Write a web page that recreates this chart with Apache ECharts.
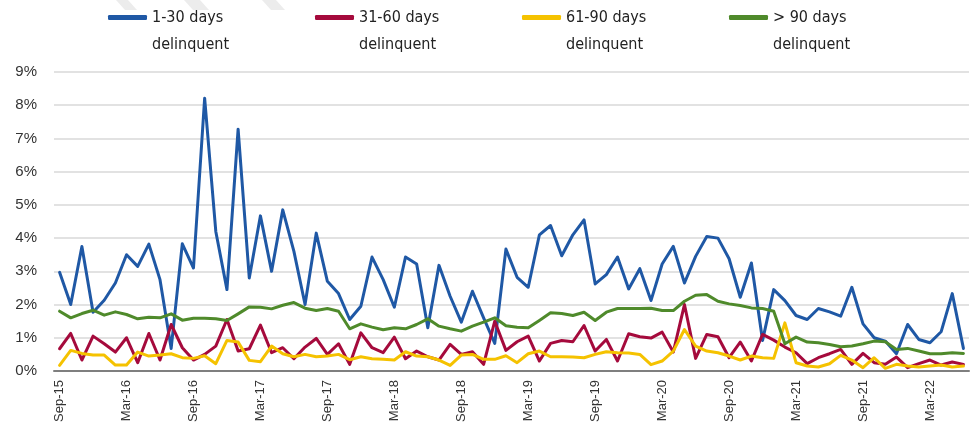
<!DOCTYPE html>
<html>
<head>
<meta charset="utf-8">
<style>
    html, body { margin: 0; padding: 0; background: #fff; }
    .chart { width: 976px; height: 433px; }
</style>
<script src="https://cdn.jsdelivr.net/npm/echarts@6/dist/echarts.min.js"></script>
</head>
<body>
<div class="chart"></div>
<script>
var months = [
    'Sep-15', 'Oct-15', 'Nov-15', 'Dec-15',
    'Jan-16', 'Feb-16', 'Mar-16', 'Apr-16', 'May-16', 'Jun-16', 'Jul-16', 'Aug-16', 'Sep-16', 'Oct-16', 'Nov-16', 'Dec-16',
    'Jan-17', 'Feb-17', 'Mar-17', 'Apr-17', 'May-17', 'Jun-17', 'Jul-17', 'Aug-17', 'Sep-17', 'Oct-17', 'Nov-17', 'Dec-17',
    'Jan-18', 'Feb-18', 'Mar-18', 'Apr-18', 'May-18', 'Jun-18', 'Jul-18', 'Aug-18', 'Sep-18', 'Oct-18', 'Nov-18', 'Dec-18',
    'Jan-19', 'Feb-19', 'Mar-19', 'Apr-19', 'May-19', 'Jun-19', 'Jul-19', 'Aug-19', 'Sep-19', 'Oct-19', 'Nov-19', 'Dec-19',
    'Jan-20', 'Feb-20', 'Mar-20', 'Apr-20', 'May-20', 'Jun-20', 'Jul-20', 'Aug-20', 'Sep-20', 'Oct-20', 'Nov-20', 'Dec-20',
    'Jan-21', 'Feb-21', 'Mar-21', 'Apr-21', 'May-21', 'Jun-21', 'Jul-21', 'Aug-21', 'Sep-21', 'Oct-21', 'Nov-21', 'Dec-21',
    'Jan-22', 'Feb-22', 'Mar-22', 'Apr-22', 'May-22', 'Jun-22'
];

var seriesNames = ['1-30 days delinquent', '31-60 days delinquent', '61-90 days delinquent', '> 90 days delinquent'];

// values in %
var days1to30 = [
    2.97, 2.0, 3.75, 1.77, 2.13, 2.65, 3.5, 3.15, 3.82, 2.75, 0.68, 3.83, 3.1, 8.21,
    4.2, 2.45, 7.28, 2.8, 4.67, 3.0, 4.85, 3.6, 2.0, 4.15, 2.7, 2.33, 1.55, 1.95,
    3.43, 2.75, 1.92, 3.43, 3.22, 1.3, 3.18, 2.25, 1.47, 2.4, 1.6, 0.83, 3.67,
    2.82, 2.52, 4.1, 4.38, 3.47, 4.1, 4.55, 2.62, 2.9, 3.43, 2.47, 3.08, 2.12,
    3.22, 3.75, 2.65, 3.45, 4.05, 4.0, 3.38, 2.22, 3.25, 0.92, 2.45, 2.12, 1.67, 1.55,
    1.88, 1.78, 1.65, 2.52, 1.42, 1.0, 0.9, 0.52, 1.4, 0.95, 0.85, 1.18, 2.33, 0.68
];
var days31to60 = [
    0.67, 1.13, 0.33, 1.05, 0.82, 0.57, 1.0, 0.25, 1.13, 0.33, 1.4, 0.7, 0.33, 0.5,
    0.75, 1.55, 0.6, 0.67, 1.38, 0.55, 0.7, 0.37, 0.72, 0.98, 0.5, 0.82, 0.2, 1.15,
    0.7, 0.55, 1.02, 0.37, 0.6, 0.43, 0.33, 0.8, 0.5, 0.58, 0.2, 1.5, 0.62,
    0.88, 1.05, 0.3, 0.83, 0.92, 0.88, 1.37, 0.6, 0.95, 0.3, 1.12, 1.03, 0.99,
    1.17, 0.57, 2.0, 0.38, 1.1, 1.03, 0.4, 0.87, 0.3, 1.1, 0.93, 0.72, 0.55, 0.22,
    0.4, 0.52, 0.65, 0.2, 0.53, 0.25, 0.2, 0.42, 0.1, 0.22, 0.33, 0.18, 0.27, 0.2
];
var days61to90 = [
    0.17, 0.62, 0.53, 0.48, 0.48, 0.18, 0.18, 0.57, 0.45, 0.48, 0.52, 0.4, 0.38, 0.46,
    0.22, 0.92, 0.87, 0.32, 0.28, 0.75, 0.52, 0.43, 0.5, 0.43, 0.45, 0.5, 0.34, 0.43,
    0.37, 0.35, 0.33, 0.58, 0.45, 0.43, 0.33, 0.17, 0.48, 0.5, 0.35, 0.35, 0.46,
    0.25, 0.52, 0.6, 0.43, 0.43, 0.42, 0.4, 0.5, 0.58, 0.55, 0.54, 0.5, 0.19,
    0.3, 0.6, 1.25, 0.75, 0.6, 0.55, 0.45, 0.33, 0.45, 0.4, 0.38, 1.45, 0.25, 0.15,
    0.12, 0.22, 0.47, 0.33, 0.1, 0.4, 0.08, 0.2, 0.15, 0.12, 0.15, 0.18, 0.12, 0.15
];
var days90plus = [
    1.8, 1.6, 1.73, 1.83, 1.68, 1.78, 1.7, 1.57, 1.62, 1.6, 1.72, 1.53, 1.59, 1.59,
    1.57, 1.52, 1.72, 1.93, 1.92, 1.87, 1.98, 2.06, 1.89, 1.82, 1.88, 1.8, 1.27, 1.42,
    1.32, 1.24, 1.3, 1.27, 1.4, 1.57, 1.35, 1.27, 1.2, 1.35, 1.47, 1.6, 1.36,
    1.32, 1.3, 1.52, 1.75, 1.73, 1.67, 1.77, 1.52, 1.77, 1.88, 1.88, 1.88, 1.89,
    1.82, 1.82, 2.1, 2.28, 2.3, 2.1, 2.02, 1.97, 1.9, 1.88, 1.8, 0.82, 1.02, 0.87,
    0.85, 0.8, 0.73, 0.75, 0.82, 0.9, 0.88, 0.65, 0.68, 0.6, 0.52, 0.52, 0.55, 0.53
];

(function () {
    var myChart = echarts.init(document.querySelector('.chart'));
    var colors = ['#1f58a5', '#a50a3c', '#f5c200', '#4f8a2b'];
    var allData = [days1to30, days31to60, days61to90, days90plus];

    var series = [];
    for (var i = 0; i < seriesNames.length; i++) {
        series.push({
            name: seriesNames[i],
            type: 'line',
            data: allData[i],
            showSymbol: false,
            symbol: 'none',
            lineStyle: {
                color: colors[i],
                width: 3,
                cap: 'round',
                join: 'round'
            },
            itemStyle: {
                color: colors[i]
            },
            z: 2 + i
        });
    }

    // faint watermark strokes at the top
    var stripes = [[116, 128], [184, 200], [262, 276]];
    var graphics = [];
    for (var s = 0; s < stripes.length; s++) {
        var a = stripes[s][0], b = stripes[s][1];
        graphics.push({
            type: 'polygon',
            shape: { points: [[a, 0], [b, 0], [b + 9, 10], [a + 9, 10]] },
            style: { fill: '#ececec' },
            silent: true
        });
    }

    var option = {
        animation: false,
        color: colors,
        graphic: graphics,
        legend: {
            data: seriesNames,
            left: 108,
            top: -23,
            padding: 0,
            itemWidth: 39,
            itemHeight: 5,
            itemGap: 3,
            icon: 'roundRect',
            // blank first line keeps the icon level with the first text line
            formatter: function (name) {
                return ' \n' + name.replace(' delinquent', '\ndelinquent');
            },
            textStyle: {
                fontFamily: '"Liberation Sans Narrow", "Arial Narrow", "DejaVu Sans Condensed", sans-serif',
                fontSize: 16,
                color: '#222',
                lineHeight: 27,
                width: 160,
                overflow: 'none'
            }
        },
        grid: {
            left: 54,
            right: 7,
            top: 72,
            bottom: 62,
            containLabel: false
        },
        xAxis: {
            type: 'category',
            data: months,
            boundaryGap: true,
            axisTick: {
                show: false
            },
            axisLine: {
                lineStyle: {
                    color: '#7f7f7f',
                    width: 2
                }
            },
            axisLabel: {
                interval: 5,
                rotate: 90,
                margin: 9,
                color: '#333',
                fontSize: 13,
                fontFamily: '"Liberation Sans", Arial, sans-serif'
            }
        },
        yAxis: {
            type: 'value',
            min: 0,
            max: 9,
            interval: 1,
            axisLine: {
                show: false
            },
            axisTick: {
                show: false
            },
            axisLabel: {
                formatter: '{value}%',
                margin: 17,
                color: '#333',
                fontSize: 15,
                fontFamily: '"Liberation Sans", Arial, sans-serif'
            },
            splitLine: {
                lineStyle: {
                    color: '#d9d9d9',
                    width: 1.5
                }
            }
        },
        series: series
    };
    myChart.setOption(option);
    window.addEventListener('resize', function () {
        myChart.resize();
    });
})();
</script>
</body>
</html>
